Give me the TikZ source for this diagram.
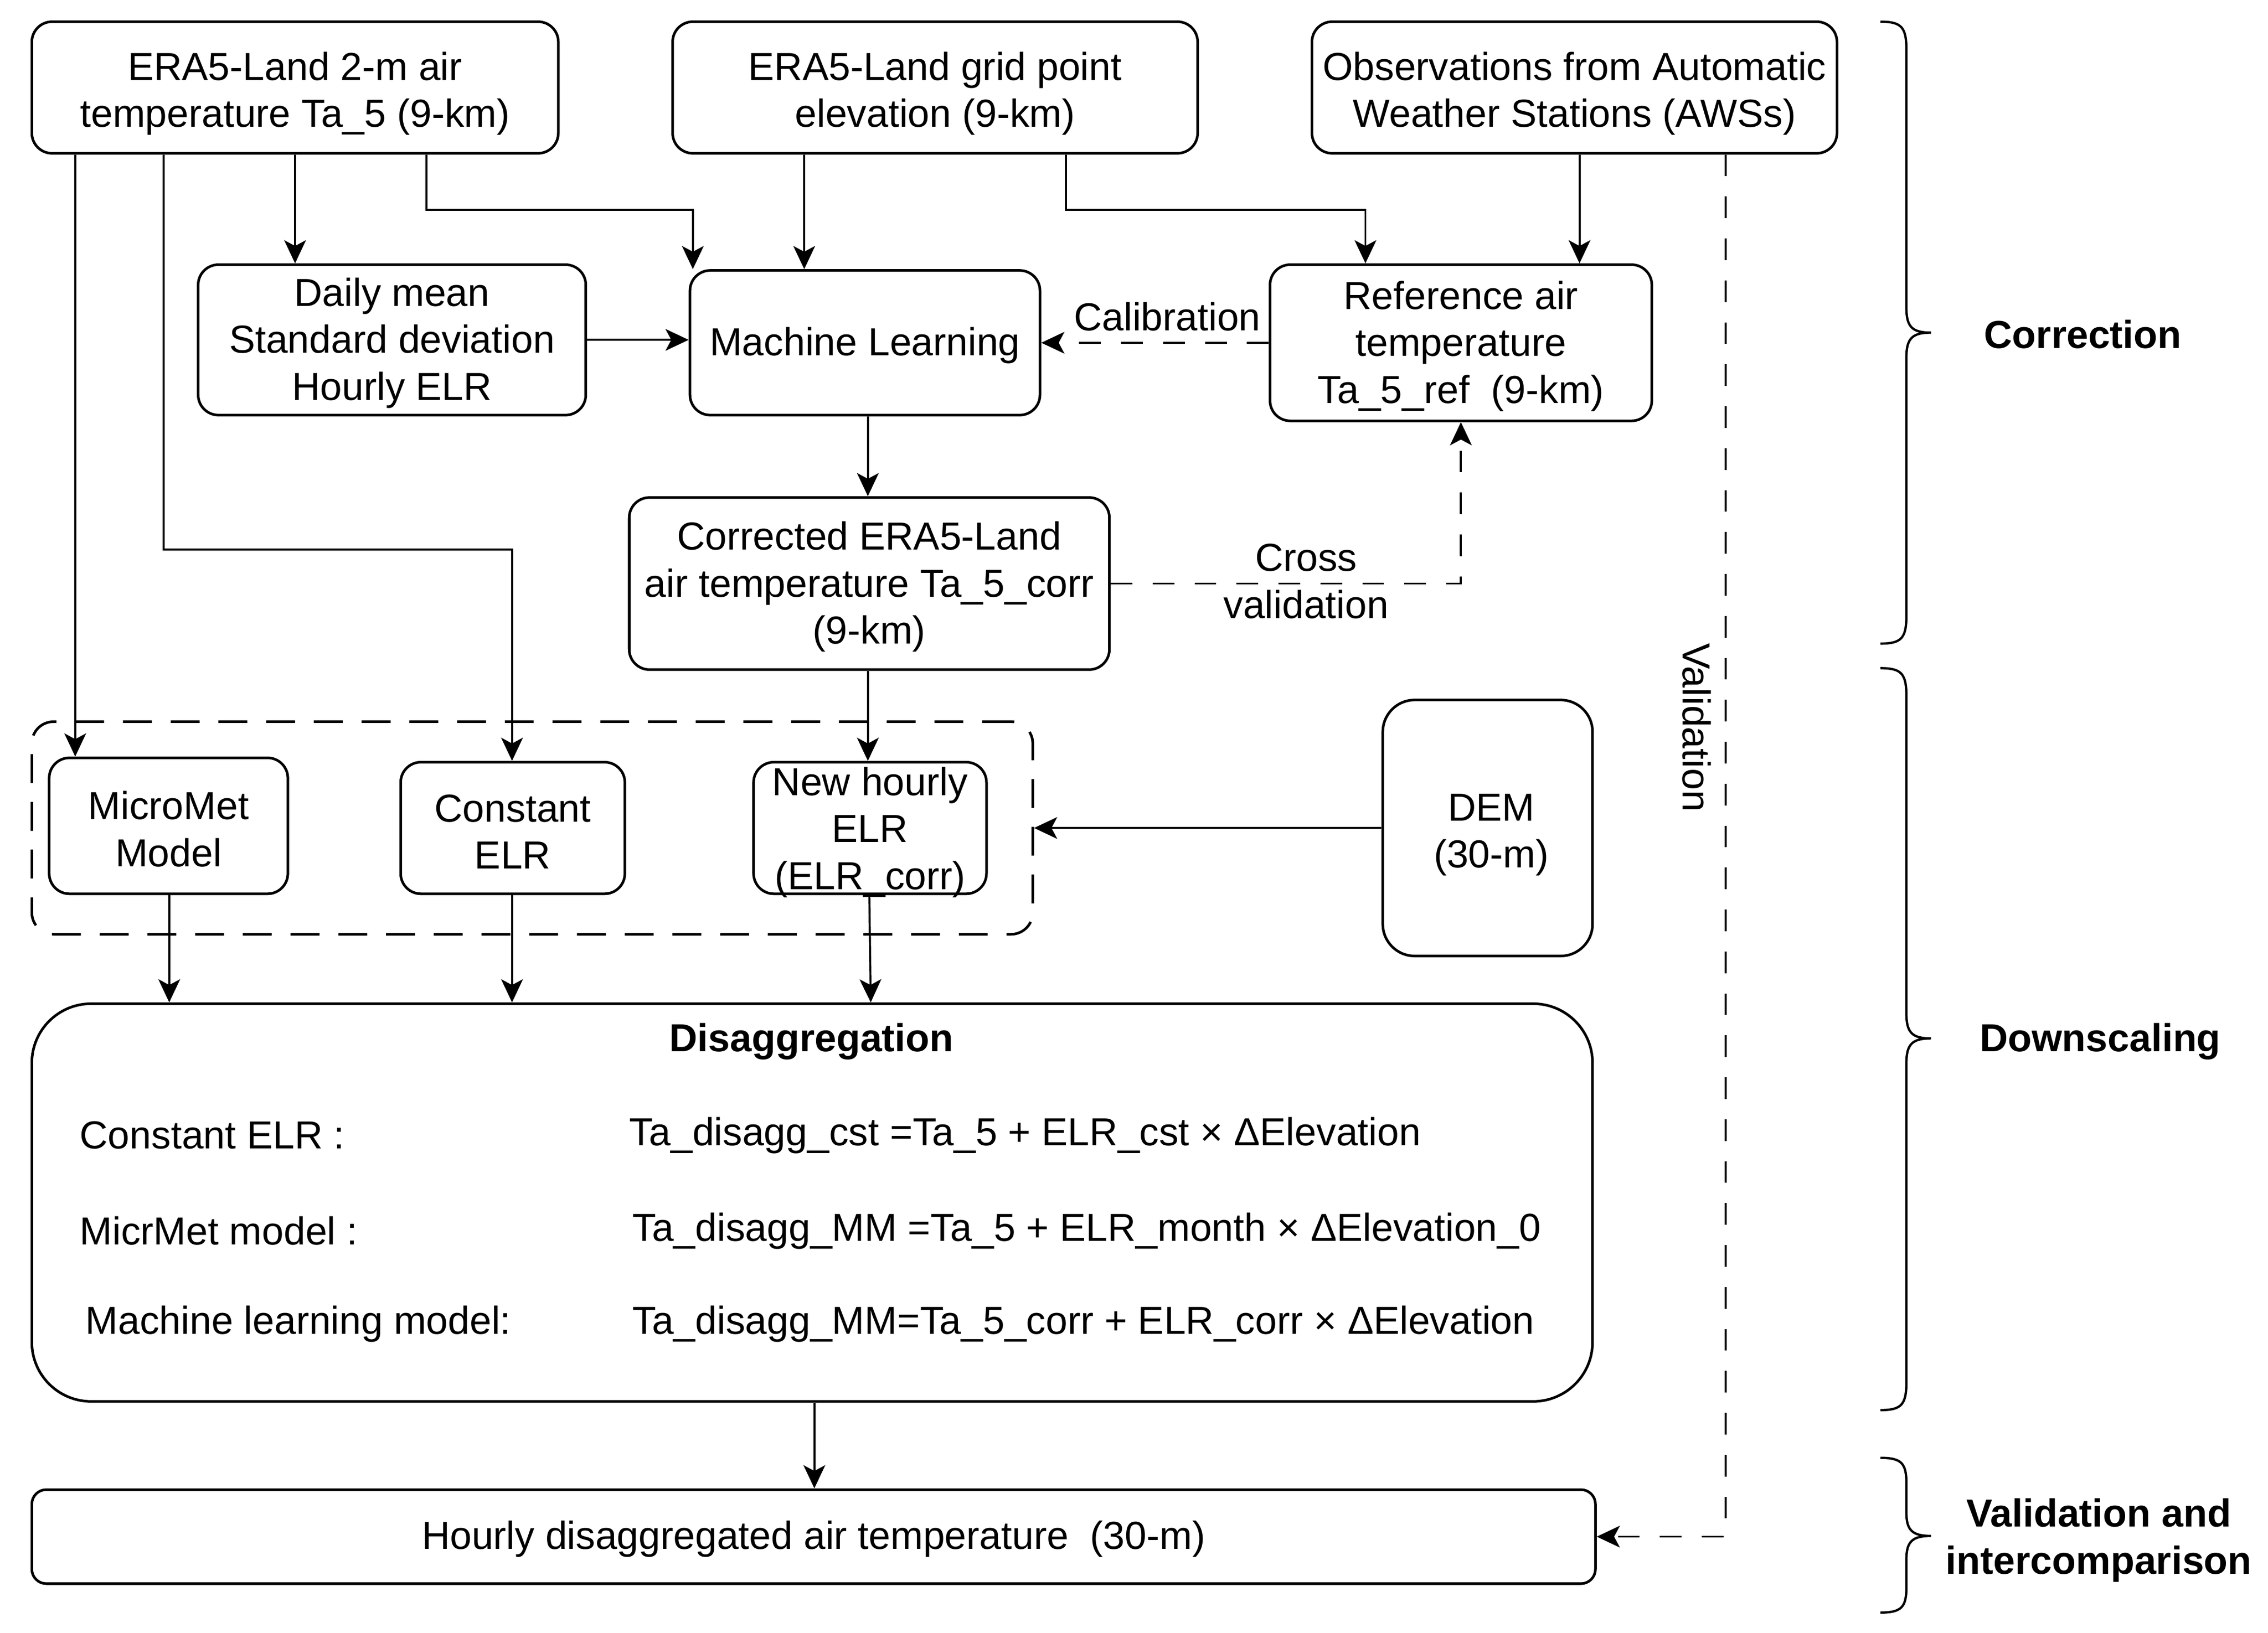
\documentclass[tikz,border=0pt]{standalone}
\usepackage{fontspec}
\setmainfont{Liberation Sans}
\usetikzlibrary{arrows.meta}
\newcommand\lift[1]{\rule{0pt}{#1pt}}
\begin{document}
\fontsize{27}{32.5}\selectfont
\begin{tikzpicture}[x=1pt,y=-1pt,
  box/.style={draw, line width=1.8pt, rounded corners=#1, align=center, inner sep=0pt},
  box/.default=14pt,
  groupbox/.style={draw, line width=1.8pt, rounded corners=15pt, dash pattern=on 20pt off 13pt, inner sep=0pt},
  arr/.style={-{Stealth[length=16pt,width=15pt,inset=4pt]}, line width=1.4pt},
  dashline/.style={dash pattern=on 15pt off 14pt},
  brace/.style={line width=1.6pt},
  phase/.style={font=\bfseries, align=center}]
\useasboundingbox (0,0) rectangle (1568,1129);

% top row
\node[box, minimum width=364pt, minimum height=91pt] (era) at (204,60.5) {\lift{28}ERA5-Land 2-m air\\temperature Ta\_5 (9-km)};
\node[box, minimum width=363pt, minimum height=91pt] (elev) at (646.5,60.5) {\lift{28}ERA5-Land grid point\\elevation (9-km)};
\node[box, minimum width=363pt, minimum height=91pt] (obs) at (1088.5,60.5) {\lift{28}Observations from Automatic\\Weather Stations (AWSs)};

% second row
\node[box, minimum width=268pt, minimum height=104pt] (daily) at (271,235) {\lift{24}Daily mean\\Standard deviation\\Hourly ELR};
\node[box, minimum width=242pt, minimum height=100pt] (ml) at (598,237) {\lift{23}Machine Learning};
\node[box, minimum width=264pt, minimum height=108pt] (ref) at (1010,237) {\lift{24}Reference air\\temperature\\Ta\_5\_ref~ (9-km)};

% corrected
\node[box, minimum width=332pt, minimum height=119pt] (corr) at (601,403.5) {\lift{24}Corrected ERA5-Land\\air temperature Ta\_5\_corr\\(9-km)};

% ELR group
\node[groupbox, minimum width=692pt, minimum height=147pt] (group) at (368,572.5) {};
\node[box, minimum width=165pt, minimum height=94pt] (micro) at (116.5,571) {\lift{24}MicroMet\\Model};
\node[box, minimum width=155pt, minimum height=91pt] (const) at (354.5,572.5) {\lift{24}Constant\\ELR};
\node[box, inner ysep=-4pt, minimum width=161pt, minimum height=91pt] (newelr) at (601.5,572.5) {\lift{25.5}New hourly\\ELR\\(ELR\_corr)};
\node[box=22pt, minimum width=145pt, minimum height=177pt] (dem) at (1028.5,572.5) {\hspace*{5pt}\lift{28}DEM\\\hspace*{5pt}(30-m)};

% disaggregation
\node[box=41pt, minimum width=1079pt, minimum height=275pt] (disagg) at (561.5,831.5) {};
\node[font=\bfseries] (dtitle) at (561,720) {Disaggregation};
\node[anchor=west, inner sep=0pt] (m1) at (55,785) {Constant ELR :};
\node[anchor=west, inner sep=0pt] (f1) at (435,785) {Ta\_disagg\_cst =Ta\_5 + ELR\_cst × ΔElevation};
\node[anchor=west, inner sep=0pt] (m2) at (55,851) {MicrMet model :};
\node[anchor=west, inner sep=0pt] (f2) at (437,851) {Ta\_disagg\_MM =Ta\_5 + ELR\_month × ΔElevation\_0};
\node[anchor=west, inner sep=0pt] (m3) at (59,915.5) {Machine learning model:};
\node[anchor=west, inner sep=0pt] (f3) at (437,915.5) {Ta\_disagg\_MM=Ta\_5\_corr + ELR\_corr × ΔElevation};

% output
\node[box=10pt, minimum width=1081pt, minimum height=65pt] (hourly) at (562.5,1062.5) {\lift{23}Hourly disaggregated air temperature~ (30-m)};

% connectors
\draw[arr] (era.south -| 204,0) -- (daily.north -| 204,0);
\draw[arr] (era.south -| 295,0) -- (295,145) -| (ml.north -| 479,0);
\draw[arr] (elev.south -| 556,0) -- (ml.north -| 556,0);
\draw[arr] (elev.south -| 737,0) -- (737,145) -| (ref.north -| 944,0);
\draw[arr] (obs.south -| 1092,0) -- (ref.north -| 1092,0);
\draw[arr] (daily.east) -- (daily.east -| ml.west);
\draw[arr, dashline] (ref.west) -- (ref.west -| ml.east);
\node (callab) at (807,219) {Calibration};
\draw[arr] (ml.south -| 600,0) -- (corr.north -| 600,0);
\draw[arr, dashline] (corr.east) -- (corr.east -| 1010,0) -- (ref.south -| 1010,0);
\node[align=center] (cvlab) at (903,402) {Cross\\validation};

\draw[arr] (era.south -| 52,0) -- (micro.north -| 52,0);
\draw[arr] (era.south -| 113,0) -- (113,380) -| (const.north -| 354,0);
\draw[arr] (corr.south -| 600,0) -- (newelr.north -| 600,0);
\draw[arr] (dem.west) -- (dem.west -| group.east);
\draw[arr] (micro.south -| 117,0) -- (disagg.north -| 117,0);
\draw[arr] (const.south -| 354,0) -- (disagg.north -| 354,0);
\draw[arr] (newelr.south -| 601,0) -- (disagg.north -| 602,0);
\draw[arr] (disagg.south -| 563,0) -- (hourly.north -| 563,0);
\draw[arr, dashline] (obs.south -| 1193,0) -- (hourly.east -| 1193,0) -- (hourly.east);
\node[rotate=-90] (vlab) at (1173,503) {Validation};

% braces
\draw[brace] (1300,15) .. controls (1315,15) and (1318,19) .. (1318,35) -- (1318,213)
  .. controls (1318,226) and (1322,230) .. (1335,230)
  .. controls (1322,230) and (1318,234) .. (1318,247) -- (1318,425)
  .. controls (1318,441) and (1315,445) .. (1300,445);
\draw[brace] (1300,462) .. controls (1315,462) and (1318,466) .. (1318,482) -- (1318,701)
  .. controls (1318,714) and (1322,718) .. (1335,718)
  .. controls (1322,718) and (1318,722) .. (1318,735) -- (1318,955)
  .. controls (1318,971) and (1315,975) .. (1300,975);
\draw[brace] (1300,1008) .. controls (1315,1008) and (1318,1012) .. (1318,1026) -- (1318,1046)
  .. controls (1318,1058) and (1322,1062) .. (1335,1062)
  .. controls (1322,1062) and (1318,1066) .. (1318,1078) -- (1318,1097)
  .. controls (1318,1111) and (1315,1115) .. (1300,1115);
\node[phase] (lcorr) at (1440,231) {Correction};
\node[phase] (ldown) at (1452,720) {Downscaling};
\node[phase] (lval) at (1451,1065) {Validation and\\intercomparison};
\end{tikzpicture}
\end{document}
